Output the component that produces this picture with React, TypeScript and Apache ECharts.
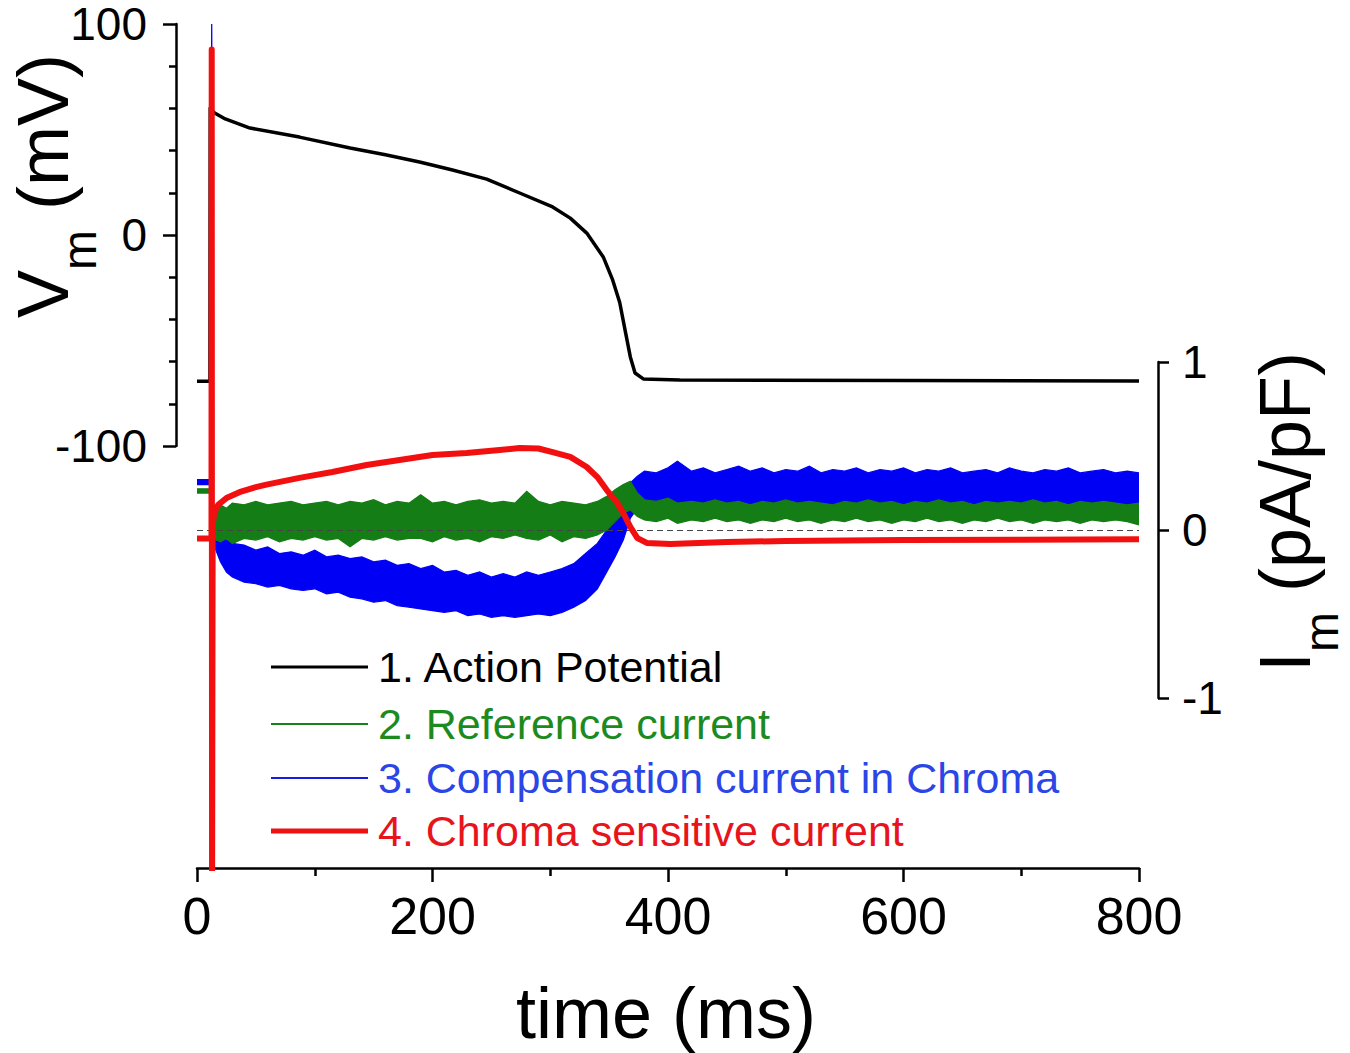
import { useEffect, useRef } from 'react';
import * as echarts from 'echarts';

const FONT = 'Arial, "Liberation Sans", Helvetica, sans-serif';

// 1. action potential, mV vs ms
const apTime = [0, 11, 11.2, 15, 24, 45, 87, 130, 160, 189, 217, 246, 274, 302, 317, 331, 345, 353, 359, 363.5, 368, 372, 379, 410, 600, 800];
const apValues = [-69.3, -69.3, 60.2, 57.8, 55, 50.7, 46.4, 41.2, 38, 34.6, 30.8, 26.5, 19.9, 13.3, 8, 0.9, -10.4, -21.3, -32, -45, -57.8, -65.4, -68.2, -68.7, -69, -69.2];

// 4. chroma sensitive current, pA/pF
const redTime = [0, 12.3, 12.5, 12.8, 13.3, 15, 18, 25, 36, 50, 59, 87, 115, 144, 172, 200, 229, 257, 274, 290, 302, 317, 331, 340, 348, 357, 362, 368, 374, 382, 402, 450, 500, 600, 700, 800];
const redValues = [-0.05, -0.05, 2.86, -2.3, 0.04, 0.11, 0.15, 0.19, 0.225, 0.255, 0.27, 0.31, 0.345, 0.387, 0.417, 0.446, 0.458, 0.476, 0.488, 0.485, 0.464, 0.435, 0.375, 0.315, 0.238, 0.16, 0.1, 0.018, -0.048, -0.077, -0.083, -0.072, -0.065, -0.06, -0.058, -0.055];

// noisy traces (2 and 3) read as upper / lower envelopes
const bandTime = [0, 11, 12.5, 14, 16, 20, 25, 30,
  40, 50, 60, 70, 80, 90, 100, 110, 120, 130,
  140, 150, 160, 170, 180, 190, 200, 210, 220, 230,
  240, 250, 260, 270, 280, 290, 300, 310, 320, 330,
  340, 348, 355, 362, 368, 374, 380, 390, 400, 408,
  420, 430, 440, 450, 460, 470, 480, 490, 500, 510,
  520, 530, 540, 550, 560, 570, 580, 590, 600, 610,
  620, 630, 640, 650, 660, 670, 680, 690, 700, 710,
  720, 730, 740, 750, 760, 770, 780, 790, 800];

const blueHigh = [0.3, 0.3, 3.05, 0.07, 0.03, -0.02, -0.06, -0.08,
  -0.09, -0.12, -0.1, -0.14, -0.13, -0.15, -0.12, -0.16, -0.15, -0.17,
  -0.16, -0.19, -0.18, -0.21, -0.2, -0.23, -0.21, -0.25, -0.24, -0.27,
  -0.25, -0.28, -0.26, -0.28, -0.25, -0.27, -0.25, -0.23, -0.2, -0.14,
  -0.08, 0, 0.08, 0.19, 0.28, 0.32, 0.35, 0.34, 0.37, 0.41,
  0.35, 0.37, 0.34, 0.36, 0.38, 0.35, 0.37, 0.34, 0.36, 0.35,
  0.38, 0.34, 0.36, 0.35, 0.37, 0.34, 0.36, 0.35, 0.37, 0.34,
  0.36, 0.35, 0.37, 0.34, 0.35, 0.36, 0.34, 0.37, 0.35, 0.34,
  0.36, 0.35, 0.37, 0.34, 0.35, 0.36, 0.34, 0.35, 0.34];

const blueLow = [0.27, 0.27, -2.1, -0.08, -0.12, -0.19, -0.25, -0.28,
  -0.31, -0.32, -0.34, -0.33, -0.35, -0.36, -0.35, -0.38, -0.37, -0.4,
  -0.41, -0.43, -0.42, -0.45, -0.46, -0.47, -0.48, -0.49, -0.48, -0.51,
  -0.5, -0.52, -0.51, -0.52, -0.51, -0.5, -0.51, -0.49, -0.46, -0.42,
  -0.35, -0.25, -0.16, -0.06, 0.07, 0.13, 0.14, 0.14, 0.15, 0.14,
  0.13, 0.14, 0.15, 0.13, 0.14, 0.14, 0.13, 0.15, 0.14, 0.13,
  0.14, 0.15, 0.13, 0.14, 0.14, 0.13, 0.15, 0.14, 0.13, 0.14,
  0.15, 0.14, 0.13, 0.14, 0.15, 0.13, 0.14, 0.14, 0.13, 0.15,
  0.14, 0.13, 0.14, 0.15, 0.14, 0.13, 0.14, 0.14, 0.13];

const greenHigh = [0.245, 0.245, 2.5, 0.12, 0.14, 0.15, 0.13, 0.16,
  0.15, 0.17, 0.15, 0.16, 0.17, 0.15, 0.16, 0.17, 0.15, 0.17,
  0.16, 0.18, 0.15, 0.17, 0.16, 0.21, 0.16, 0.17, 0.15, 0.17,
  0.18, 0.16, 0.17, 0.16, 0.23, 0.17, 0.15, 0.17, 0.16, 0.15,
  0.17, 0.2, 0.24, 0.27, 0.29, 0.22, 0.18, 0.17, 0.19, 0.16,
  0.17, 0.16, 0.18, 0.16, 0.17, 0.15, 0.17, 0.16, 0.18, 0.16,
  0.17, 0.16, 0.15, 0.17, 0.16, 0.18, 0.16, 0.17, 0.15, 0.17,
  0.16, 0.18, 0.16, 0.17, 0.15, 0.17, 0.16, 0.17, 0.16, 0.18,
  0.16, 0.17, 0.15, 0.17, 0.16, 0.17, 0.16, 0.15, 0.16];

const greenLow = [0.22, 0.22, -2.0, -0.04, -0.06, -0.07, -0.05, -0.08,
  -0.05, -0.06, -0.04, -0.07, -0.05, -0.06, -0.04, -0.06, -0.05, -0.1,
  -0.05, -0.06, -0.04, -0.06, -0.05, -0.05, -0.07, -0.04, -0.06, -0.05,
  -0.07, -0.04, -0.05, -0.03, -0.05, -0.06, -0.03, -0.07, -0.04, -0.05,
  -0.03, 0, 0.05, 0.1, 0.12, 0.08, 0.06, 0.05, 0.07, 0.04,
  0.06, 0.05, 0.07, 0.05, 0.06, 0.04, 0.06, 0.05, 0.07, 0.05,
  0.06, 0.04, 0.06, 0.05, 0.07, 0.05, 0.06, 0.04, 0.06, 0.05,
  0.07, 0.05, 0.06, 0.04, 0.06, 0.05, 0.07, 0.05, 0.06, 0.04,
  0.06, 0.05, 0.06, 0.04, 0.06, 0.05, 0.06, 0.05, 0.03];

const legendNames = ['1. Action Potential', '2. Reference current', '3. Compensation current in Chroma', '4. Chroma sensitive current'];
const legendText = ['#000000', '#1d8a1d', '#2b46e6', '#e8141c'];
const legendLine = ['#000000', '#178217', '#1a1ae6', '#ee1111'];
const legendWidth = [3, 2, 2, 5];
const legendY = [667, 724, 778, 831];

const BLUE = '#0000f5';
const GREEN = '#157d15';
const RED = '#f20f0f';

const pairs = (t: number[], v: number[]) => t.map((x, i) => [x, v[i]]);

// filled band between two envelopes, mapped through the series' own axes
const band = (name: string, hi: number[], lo: number[], color: string, z: number) => ({
  name,
  type: 'custom',
  xAxisIndex: 0,
  yAxisIndex: 0,
  z,
  silent: true,
  clip: true,
  data: bandTime.map((t, i) => [t, lo[i], hi[i]]),
  encode: { x: 0, y: [1, 2] },
  renderItem: (params: any, api: any) => {
    if (params.dataIndex !== 0) return null;
    const top = bandTime.map((t, i) => api.coord([t, hi[i]]));
    const bottom = bandTime.map((t, i) => api.coord([t, lo[i]])).reverse();
    return {
      type: 'polygon',
      shape: { points: top.concat(bottom) },
      style: { fill: color, stroke: color, lineWidth: 1.2, lineJoin: 'miter' },
    };
  },
});

const App = () => {
  const chartRef = useRef<HTMLDivElement>(null);

  useEffect(() => {
    if (!chartRef.current) return;
    const chart = echarts.init(chartRef.current, null, { renderer: 'svg' });

    const tickLabel = { color: '#000', fontSize: 46, fontFamily: FONT, lineHeight: 40 };
    const blackLine = { color: '#000', width: 2.5 };
    const titleRich = {
      v: { fontSize: 72, fontFamily: FONT, fill: '#000', lineHeight: 72, verticalAlign: 'top' },
      s: { fontSize: 48, fontFamily: FONT, fill: '#000', lineHeight: 48, verticalAlign: 'top', padding: [48, 0, 0, 0] },
    };

    const option = {
      animation: false,
      grid: [
        { left: 197, top: 24, width: 942, height: 844 },
        { left: 197, top: 24, width: 942, height: 422 },
        { left: 197, top: 362, width: 942, height: 336 },
      ],
      xAxis: [
        {
          gridIndex: 0, type: 'value', min: 0, max: 800, interval: 200,
          axisLine: { onZero: false, lineStyle: blackLine },
          axisTick: { length: 14, lineStyle: blackLine },
          minorTick: { show: true, splitNumber: 2, length: 8, lineStyle: blackLine },
          splitLine: { show: false },
          axisLabel: { ...tickLabel, fontSize: 52, lineHeight: 52, margin: 22 },
        },
        { gridIndex: 1, type: 'value', min: 0, max: 800, show: false },
        { gridIndex: 2, type: 'value', min: 0, max: 800, show: false },
      ],
      yAxis: [
        { gridIndex: 0, type: 'value', min: -2.012, max: 3.012, show: false, splitLine: { show: false } },
        { gridIndex: 0, type: 'value', min: -300, max: 100, show: false, splitLine: { show: false } },
        {
          gridIndex: 1, type: 'value', position: 'left', offset: 21, min: -100, max: 100, interval: 100,
          axisLine: { show: true, onZero: false, lineStyle: blackLine },
          axisTick: { show: true, length: 13, lineStyle: blackLine },
          minorTick: { show: true, splitNumber: 5, length: 7, lineStyle: blackLine },
          splitLine: { show: false },
          axisLabel: { ...tickLabel, margin: 29 },
        },
        {
          gridIndex: 2, type: 'value', position: 'right', offset: 19, min: -1, max: 1, interval: 1,
          axisLine: { show: true, onZero: false, lineStyle: blackLine },
          axisTick: { show: true, length: 11, lineStyle: blackLine },
          splitLine: { show: false },
          axisLabel: { ...tickLabel, margin: 24 },
        },
      ],
      graphic: [
        {
          type: 'text', x: 43, y: 186, rotation: Math.PI / 2,
          style: { text: '{v|V}{s|m}{v| (mV)}', align: 'center', verticalAlign: 'middle', rich: titleRich },
        },
        {
          type: 'text', x: 1285, y: 512, rotation: Math.PI / 2,
          style: { text: '{v|I}{s|m}{v| (pA/pF)}', align: 'center', verticalAlign: 'middle', rich: titleRich },
        },
        {
          type: 'text', x: 666, y: 1013,
          style: { text: 'time (ms)', fontSize: 72, fontFamily: FONT, fill: '#000', align: 'center', verticalAlign: 'middle' },
        },
        ...legendNames.map((_, i) => ({
          type: 'line',
          shape: { x1: 271, y1: legendY[i], x2: 368, y2: legendY[i] },
          style: { stroke: legendLine[i], lineWidth: legendWidth[i] },
        })),
        ...legendNames.map((name, i) => ({
          type: 'text', x: 378, y: legendY[i],
          style: { text: name, fontSize: 43, fontFamily: FONT, fill: legendText[i], verticalAlign: 'middle' },
        })),
      ],
      series: [
        band(legendNames[2], blueHigh, blueLow, BLUE, 2),
        band(legendNames[1], greenHigh, greenLow, GREEN, 3),
        {
          name: legendNames[0], type: 'line', xAxisIndex: 0, yAxisIndex: 1,
          symbol: 'none', silent: true, z: 5,
          data: pairs(apTime, apValues),
          lineStyle: { color: '#000', width: 3.5, join: 'round' },
        },
        {
          name: legendNames[3], type: 'line', xAxisIndex: 0, yAxisIndex: 0,
          symbol: 'none', silent: true, z: 6,
          data: pairs(redTime, redValues),
          lineStyle: { color: RED, width: 6, join: 'round' },
          markLine: {
            silent: true, symbol: 'none', z: 4, label: { show: false },
            lineStyle: { color: '#444', width: 1.2, type: [6, 4] },
            data: [{ yAxis: 0 }],
          },
        },
      ],
    };

    chart.setOption(option as any);
    return () => {
      chart.dispose();
    };
  }, []);

  return <div ref={chartRef} style={{ position: 'absolute', left: 0, top: 0, width: 1350, height: 1053 }} />;
};

export default App;
